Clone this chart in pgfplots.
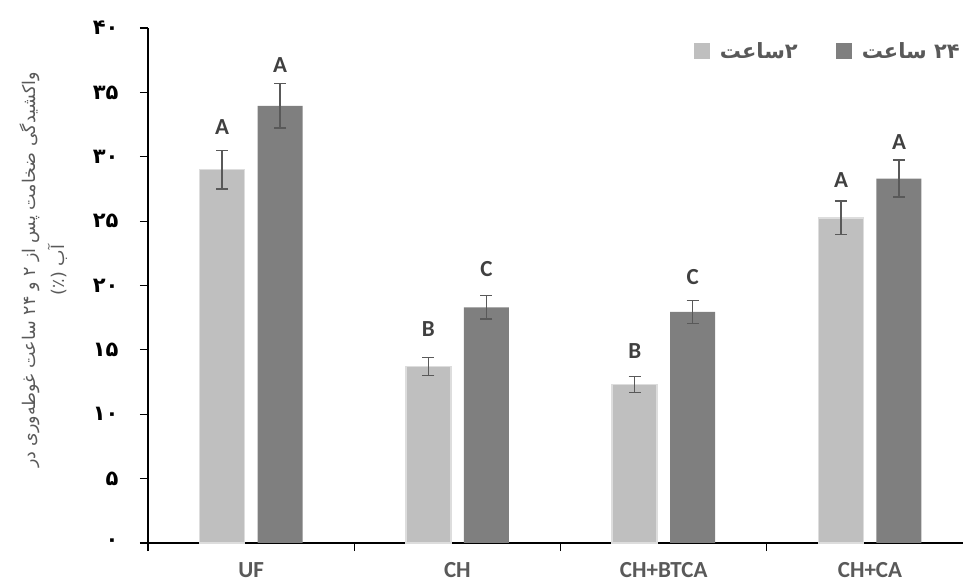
\documentclass[border=0pt]{standalone}
\usepackage{pgfplots}
\pgfplotsset{compat=1.18}
\usepackage{pgfplotstable}
\usepackage{fontspec}
\setmainfont{Carlito}
\newfontfamily\arabicfont[Script=Arabic]{DejaVu Sans}
\TeXXeTstate=1
\definecolor{lightbar}{HTML}{BFBFBF}
\definecolor{lightedge}{HTML}{DDDDDD}
\definecolor{darkbar}{HTML}{7F7F7F}
\definecolor{txt}{HTML}{595959}
\definecolor{lett}{HTML}{404040}

\pgfplotstableread{
x y e L off
0 29.0 1.5 A 35
1 13.7 0.7 B 30
2 12.3 0.63 B 26
3 25.25 1.3 A 30
}\twoh
\pgfplotstableread{
x y e L off
0 33.95 1.72 A 33
1 18.3 0.92 C 31
2 17.95 0.9 C 27
3 28.3 1.43 A 29
}\tfh

\begin{document}
\begin{tikzpicture}
\useasboundingbox (-148pt,-40pt) rectangle (815pt,543pt);
\begin{axis}[
  scale only axis, width=815pt, height=515pt,
  xmin=-0.5, xmax=3.451, ymin=0, ymax=40,
  axis x line*=bottom, axis y line*=left,
  axis line style={line width=1.2pt, black},
  tick align=outside,
  major tick length=8pt,
  every tick/.style={black, line width=1.2pt},
  xtick={-0.5,0.5,1.5,2.5}, xticklabels={},
  extra x ticks={0,1,2,3},
  extra x tick labels={UF,CH,CH+BTCA,CH+CA},
  extra x tick style={major tick length=0pt,
     tick label style={font=\bfseries\fontsize{23}{23}\selectfont, text=txt, yshift=-16pt}},
  ytick={0,5,...,40},
  yticklabels={۰,۵,۱۰,۱۵,۲۰,۲۵,۳۰,۳۵,۴۰},
  yticklabel style={font=\arabicfont\bfseries\fontsize{21}{21}\selectfont, text=black, xshift=-18pt},
  clip=false,
  ybar=13pt, bar width=45pt,
  legend style={at={(1,1)}, anchor=north east, yshift=-10pt, xshift=2pt, draw=none, fill=none,
     legend columns=2, font=\arabicfont\bfseries\fontsize{21}{21}\selectfont, text=txt,
     /tikz/every odd column/.append style={column sep=8pt},
     /tikz/every even column/.append style={column sep=36pt}},
  legend cell align=left,
  legend image code/.code={\fill[#1, draw=none] (0pt,-8pt) rectangle (16pt,8pt);},
  error bars/error bar style={txt, line width=1.5pt},
  error bars/error mark options={rotate=90, mark size=6pt, line width=1.5pt, txt},
  nodes near coords,
  point meta=explicit symbolic,
  visualization depends on={\thisrow{off} \as \off},
  nodes near coords style={anchor=base, inner sep=0pt, yshift=\off pt,
     font=\bfseries\fontsize{23}{23}\selectfont, text=lett},
]
\addplot[fill=lightbar, draw=lightedge, line width=1.5pt,
  error bars/.cd, y dir=both, y explicit]
  table[x=x, y=y, y error=e, meta=L] {\twoh};
\addplot[fill=darkbar, draw=none,
  error bars/.cd, y dir=both, y explicit]
  table[x=x, y=y, y error=e, meta=L] {\tfh};
\legend{\beginR ۲ساعت\endR, \beginR ۲۴ ساعت\endR}

\node[xshift=-104pt, rotate=90, align=center, text=txt, font=\arabicfont\fontsize{17.5}{29}\selectfont]
  at (rel axis cs:0,0.53)
  {\beginR واکشیدگی ضخامت پس از ۲ و ۲۴ ساعت غوطه‌وری در\endR\\ \beginR آب (٪)\endR};
\end{axis}
\end{tikzpicture}
\end{document}
